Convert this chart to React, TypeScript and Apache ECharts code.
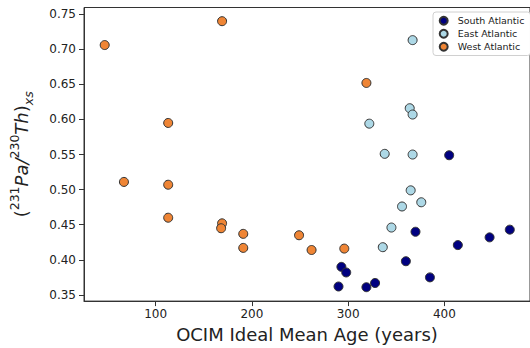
import React, { useEffect, useRef } from "react";
import * as echarts from "echarts";

const southAge = [405, 468, 447, 414, 370, 360, 385, 293, 298, 290, 319, 328];
const southRatio = [0.549, 0.443, 0.432, 0.421, 0.440, 0.398, 0.375, 0.390, 0.382, 0.362, 0.361, 0.367];

const eastAge = [367, 364, 367, 322, 338, 367, 365, 376, 356, 345, 336];
const eastRatio = [0.713, 0.616, 0.607, 0.594, 0.551, 0.550, 0.499, 0.482, 0.476, 0.446, 0.418];

const westAge = [47, 169, 113, 67, 113, 113, 169, 168, 191, 191, 249, 262, 296, 319];
const westRatio = [0.706, 0.740, 0.595, 0.511, 0.507, 0.460, 0.452, 0.445, 0.437, 0.417, 0.435, 0.414, 0.416, 0.652];

const xTicks = [100, 200, 300, 400];
const yTicks = [0.35, 0.4, 0.45, 0.5, 0.55, 0.6, 0.65, 0.7, 0.75];

const seriesNames = ["South Atlantic", "East Atlantic", "West Atlantic"];
const seriesColors = ["#000080", "#add8e6", "#ef8535"];

const FONT = "DejaVu Sans";

function pairs(xs: number[], ys: number[]) {
  return xs.map((x, i) => [x, ys[i]]);
}

export default function App() {
  const ref = useRef<HTMLDivElement>(null);
  useEffect(() => {
    if (!ref.current) return;
    const chart = echarts.init(ref.current, undefined, { renderer: "svg" });
    const datasets = [pairs(southAge, southRatio), pairs(eastAge, eastRatio), pairs(westAge, westRatio)];
    chart.setOption({
      animation: false,
      textStyle: { fontFamily: FONT },
      grid: {
        left: 77,
        top: 7.5,
        width: 457,
        height: 296,
        show: true,
        borderColor: "#333",
        borderWidth: 1,
        backgroundColor: "transparent",
      },
      legend: {
        left: 433,
        top: 12,
        orient: "vertical",
        data: seriesNames,
        icon: "circle",
        itemWidth: 18,
        itemHeight: 8,
        itemGap: 1.5,
        padding: [3, 6, 3, 5.7],
        borderColor: "#d0d0d0",
        borderWidth: 1,
        borderRadius: 3,
        backgroundColor: "#fff",
        textStyle: { fontFamily: FONT, fontSize: 9.5, color: "#222", lineHeight: 11.5 },
      },
      xAxis: {
        type: "value",
        min: 25.5,
        max: 489,
        name: "OCIM Ideal Mean Age (years)",
        nameLocation: "middle",
        nameGap: 22,
        nameTextStyle: { fontFamily: FONT, fontSize: 18, color: "#222" },
        axisLine: { show: true, lineStyle: { color: "#333", width: 1 } },
        axisTick: { show: true, length: 5, customValues: xTicks, lineStyle: { color: "#333" } },
        axisLabel: {
          customValues: xTicks,
          fontFamily: FONT,
          fontSize: 12,
          color: "#222",
          margin: 7,
        },
        splitLine: { show: false },
      },
      yAxis: {
        type: "value",
        min: 0.3412,
        max: 0.7595,
        name:
          "{n|(}{sup|231}{i|Pa/}{sup|230}{i|Th}{n|)}{sub|xs}",
        nameLocation: "middle",
        nameRotate: 90,
        nameGap: 49,
        nameTextStyle: {
          fontFamily: FONT,
          color: "#222",
          rich: {
            n: { fontFamily: FONT, fontSize: 18, color: "#222", lineHeight: 27, verticalAlign: "middle" },
            i: { fontFamily: FONT, fontSize: 18, fontStyle: "italic", color: "#222", lineHeight: 27, verticalAlign: "middle" },
            sup: { fontFamily: FONT, fontSize: 12.5, color: "#222", lineHeight: 27, verticalAlign: "top" },
            sub: { fontFamily: FONT, fontSize: 12.5, fontStyle: "italic", color: "#222", lineHeight: 27, verticalAlign: "bottom" },
          },
        },
        axisLine: { show: true, lineStyle: { color: "#333", width: 1 } },
        axisTick: { show: true, length: 5, customValues: yTicks, lineStyle: { color: "#333" } },
        axisLabel: {
          customValues: yTicks,
          formatter: (v: number) => v.toFixed(2),
          fontFamily: FONT,
          fontSize: 12,
          color: "#222",
          margin: 8,
        },
        splitLine: { show: false },
      },
      series: seriesNames.map((name, k) => ({
        name,
        type: "scatter",
        data: datasets[k],
        symbol: "circle",
        symbolSize: 9,
        itemStyle: { color: seriesColors[k], borderColor: "#333", borderWidth: 1, opacity: 1 },
        emphasis: { disabled: true },
        z: 2 + k,
      })),
    });
    return () => chart.dispose();
  }, []);
  return (
    <div
      ref={ref}
      style={{ position: "absolute", left: 0, top: 0, width: 530, height: 348, background: "#fff" }}
    />
  );
}
